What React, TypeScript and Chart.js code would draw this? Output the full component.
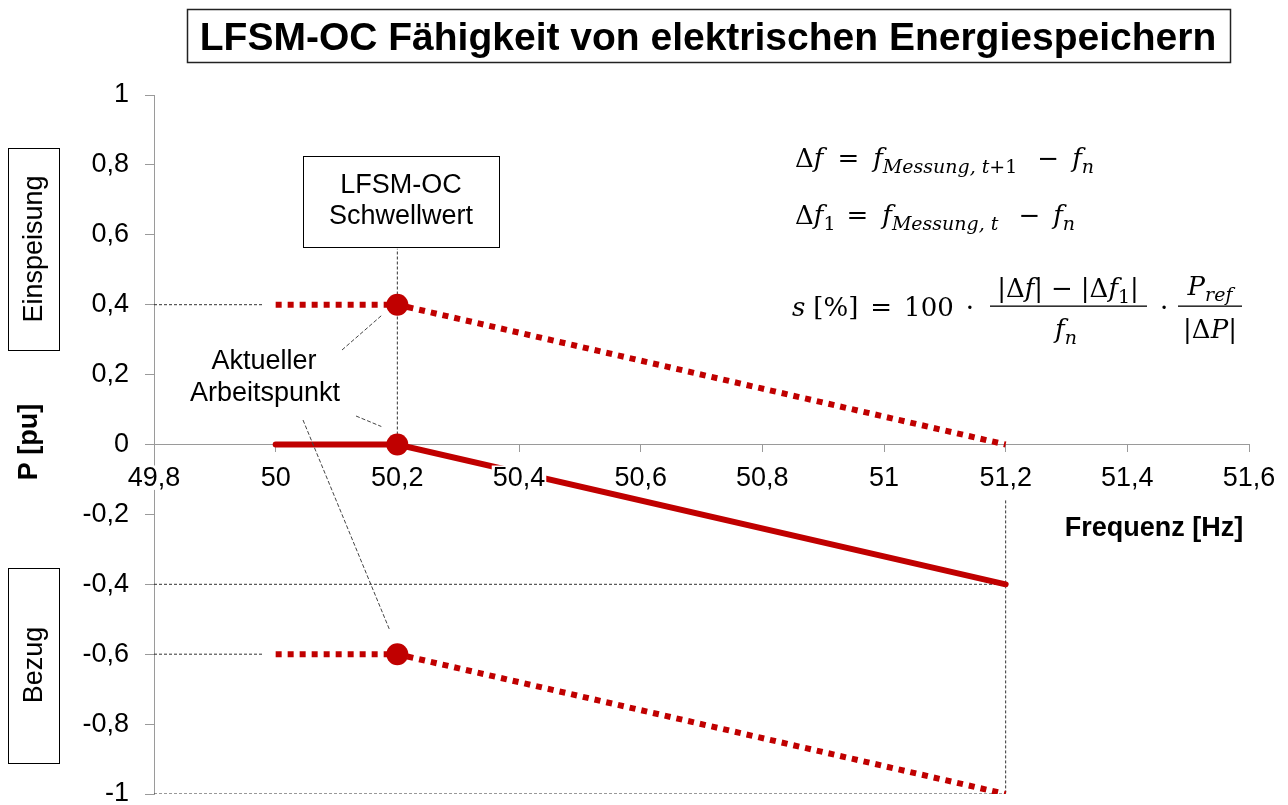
import { useEffect, useRef } from 'react';
import { Chart, registerables } from 'chart.js';

Chart.register(...registerables);

// ---- data ----
const xTickValues = [49.8, 50, 50.2, 50.4, 50.6, 50.8, 51, 51.2, 51.4, 51.6];
const xTickLabels = ['49,8', '50', '50,2', '50,4', '50,6', '50,8', '51', '51,2', '51,4', '51,6'];
const yTickValues = [1, 0.8, 0.6, 0.4, 0.2, 0, -0.2, -0.4, -0.6, -0.8, -1];
const yTickLabels = ['1', '0,8', '0,6', '0,4', '0,2', '0', '-0,2', '-0,4', '-0,6', '-0,8', '-1'];

const freqPoints = [50, 50.2, 51.2];
const powerActual = [0, 0, -0.4];
const powerUpper = [0.4, 0.4, 0];
const powerLower = [-0.6, -0.6, -1];

const thresholdFreq = 50.2;
const operatingPoints = [0.4, 0, -0.6];

const guideShortX = [49.8, 49.98];
const guideShortLevels = [0.4, -0.6];
const guideLongX = [49.8, 51.2];
const guideLongLevels = [-0.4, -1];
const guideThresholdY = [0, 0.56];
const guideEndFreq = 51.2;
const guideEndY = [-0.16, -1];

const TITLE = 'LFSM-OC Fähigkeit von elektrischen Energiespeichern';
const RED = '#C00000';
const AXIS = '#9a9a9a';
const SANS = '"Liberation Sans", Arial, sans-serif';
const SERIF = '"DejaVu Serif", "Liberation Serif", serif';

const pts = (xs: number[], ys: number[]) => xs.map((x, i) => ({ x, y: ys[i] }));

// a run of formula text; gap = extra space before the run
type Run = { t: string; it?: boolean; sub?: boolean; gap?: number };
const MAIN = 26;
const SUBS = 19;

function setRunFont(ctx: CanvasRenderingContext2D, r: Run) {
  ctx.font = `${r.it ? 'italic ' : ''}${r.sub ? SUBS : MAIN}px ${SERIF}`;
}
function runsWidth(ctx: CanvasRenderingContext2D, runs: Run[]) {
  let w = 0;
  for (const r of runs) {
    setRunFont(ctx, r);
    w += (r.gap || 0) + ctx.measureText(r.t).width;
  }
  return w;
}
function drawRuns(ctx: CanvasRenderingContext2D, runs: Run[], x: number, y: number) {
  let cx = x;
  for (const r of runs) {
    setRunFont(ctx, r);
    cx += r.gap || 0;
    ctx.fillText(r.t, cx, r.sub ? y + 6 : y);
    cx += ctx.measureText(r.t).width;
  }
  return cx - x;
}
function drawRunsCentered(ctx: CanvasRenderingContext2D, runs: Run[], cx: number, y: number) {
  const w = runsWidth(ctx, runs);
  drawRuns(ctx, runs, cx - w / 2, y);
}

const annotations = {
  id: 'annotations',
  afterDraw(chart: any) {
    const ctx: CanvasRenderingContext2D = chart.ctx;
    const xs = chart.scales.x;
    const ys = chart.scales.y;
    ctx.save();

    // title
    ctx.strokeStyle = '#222';
    ctx.lineWidth = 1.5;
    ctx.strokeRect(187.5, 9.5, 1043, 53);
    ctx.fillStyle = '#000';
    ctx.textAlign = 'center';
    ctx.textBaseline = 'alphabetic';
    ctx.font = `bold 39px ${SANS}`;
    ctx.fillText(TITLE, 708, 50);

    // side boxes
    ctx.lineWidth = 1;
    ctx.strokeStyle = '#000';
    ctx.strokeRect(8.5, 148.5, 51, 202);
    ctx.strokeRect(8.5, 568.5, 51, 195);
    ctx.textBaseline = 'middle';
    const rot = (text: string, x: number, y: number, font: string) => {
      ctx.save();
      ctx.translate(x, y);
      ctx.rotate(-Math.PI / 2);
      ctx.font = font;
      ctx.fillText(text, 0, 0);
      ctx.restore();
    };
    rot('Einspeisung', 35, 249, `27px ${SANS}`);
    rot('Bezug', 35, 665, `27px ${SANS}`);
    rot('P [pu]', 30, 442, `bold 27px ${SANS}`);

    // x axis title
    ctx.textBaseline = 'alphabetic';
    ctx.font = `bold 27px ${SANS}`;
    ctx.fillText('Frequenz [Hz]', 1154, 536);

    // threshold box
    ctx.fillStyle = '#fff';
    ctx.fillRect(303.5, 156.5, 196, 91);
    ctx.strokeRect(303.5, 156.5, 196, 91);
    ctx.fillStyle = '#000';
    ctx.font = `27px ${SANS}`;
    ctx.fillText('LFSM-OC', 401, 193);
    ctx.fillText('Schwellwert', 401, 224);

    // operating point label
    ctx.fillText('Aktueller', 264, 369);
    ctx.fillText('Arbeitspunkt', 265, 401);

    // leader lines
    const px = xs.getPixelForValue(thresholdFreq);
    const p = operatingPoints.map((v) => ys.getPixelForValue(v));
    ctx.strokeStyle = '#444';
    ctx.lineWidth = 1;
    ctx.setLineDash([4, 2]);
    const seg = (a: number, b: number, c: number, d: number) => {
      ctx.beginPath();
      ctx.moveTo(a, b);
      ctx.lineTo(c, d);
      ctx.stroke();
    };
    seg(342, 350, px - 16, p[0] + 11);
    seg(356, 416, px - 16, p[1] - 18);
    seg(303, 420, px - 8, p[2] - 25);
    ctx.setLineDash([]);

    // formulas
    ctx.fillStyle = '#000';
    ctx.textAlign = 'left';
    ctx.textBaseline = 'alphabetic';
    drawRuns(ctx, [
      { t: 'Δ' }, { t: 'f', it: true },
      { t: '=', gap: 14 },
      { t: 'f', it: true, gap: 14 }, { t: 'Messung, t', it: true, sub: true }, { t: '+1', sub: true },
      { t: '−', gap: 20 },
      { t: 'f', it: true, gap: 13 }, { t: 'n', it: true, sub: true },
    ], 795, 167);

    drawRuns(ctx, [
      { t: 'Δ' }, { t: 'f', it: true }, { t: '1', sub: true },
      { t: '=', gap: 11 },
      { t: 'f', it: true, gap: 14 }, { t: 'Messung, t', it: true, sub: true },
      { t: '−', gap: 20 },
      { t: 'f', it: true, gap: 13 }, { t: 'n', it: true, sub: true },
    ], 795, 224);

    const y3 = 316;
    drawRuns(ctx, [
      { t: 's', it: true }, { t: '[%]', gap: 8 },
      { t: '=', gap: 12 },
      { t: '100', gap: 12 },
      { t: '·', gap: 12 },
    ], 792, y3);
    drawRunsCentered(ctx, [
      { t: '|Δ' }, { t: 'f', it: true }, { t: '|' }, { t: '−', gap: 8 }, { t: '|Δ', gap: 8 }, { t: 'f', it: true }, { t: '1', sub: true }, { t: '|' },
    ], 1068, 297);
    ctx.fillRect(990, 305.5, 157, 1.3);
    drawRunsCentered(ctx, [{ t: 'f', it: true }, { t: 'n', it: true, sub: true }], 1066, 338);
    drawRuns(ctx, [{ t: '·' }], 1160, y3);
    drawRunsCentered(ctx, [{ t: 'P', it: true }, { t: 'ref', it: true, sub: true }], 1210, 295);
    ctx.fillRect(1178, 305.5, 64, 1.3);
    drawRunsCentered(ctx, [{ t: '|Δ' }, { t: 'P', it: true }, { t: '|' }], 1210, 338);

    ctx.restore();
  },
};

const guideStyle = {
  borderColor: '#333',
  borderWidth: 1,
  borderDash: [3, 2],
  pointRadius: 0,
  showLine: true,
  fill: false,
};

export default function App() {
  const ref = useRef<HTMLCanvasElement | null>(null);
  useEffect(() => {
    if (!ref.current) return;
    const labelFor = (vals: number[], labels: string[]) => (v: any) => {
      const i = vals.findIndex((t) => Math.abs(t - Number(v)) < 1e-6);
      return i >= 0 ? labels[i] : '';
    };
    const chart = new Chart(ref.current, {
      type: 'scatter',
      data: {
        datasets: [
          {
            label: 'Arbeitspunkte',
            data: operatingPoints.map((y) => ({ x: thresholdFreq, y })),
            pointRadius: 11,
            pointBackgroundColor: RED,
            pointBorderWidth: 0,
            showLine: false,
          },
          {
            label: 'LFSM-OC',
            data: pts(freqPoints, powerActual),
            borderColor: RED,
            borderWidth: 6,
            borderCapStyle: 'round',
            pointRadius: 0,
            showLine: true,
          },
          {
            label: 'Einspeisung',
            data: pts(freqPoints, powerUpper),
            borderColor: RED,
            borderWidth: 6,
            borderDash: [6, 6],
            pointRadius: 0,
            showLine: true,
          },
          {
            label: 'Bezug',
            data: pts(freqPoints, powerLower),
            borderColor: RED,
            borderWidth: 6,
            borderDash: [6, 6],
            pointRadius: 0,
            showLine: true,
          },
          ...guideShortLevels.map((lv) => ({ ...guideStyle, label: 'g', data: pts(guideShortX, [lv, lv]) })),
          ...guideLongLevels.map((lv) => ({ ...guideStyle, label: 'g', data: pts(guideLongX, [lv, lv]) })),
          { ...guideStyle, label: 'g', data: pts([thresholdFreq, thresholdFreq], guideThresholdY) },
          { ...guideStyle, label: 'g', data: pts([guideEndFreq, guideEndFreq], guideEndY) },
        ] as any,
      },
      options: {
        animation: false,
        responsive: false,
        devicePixelRatio: 1,
        events: [],
        layout: { padding: { left: 0, top: 95, right: 39, bottom: 7 } },
        plugins: { legend: { display: false }, tooltip: { enabled: false }, title: { display: false } },
        scales: {
          x: {
            type: 'linear',
            min: 49.8,
            max: 51.6,
            position: { y: 0 } as any,
            afterBuildTicks: (s: any) => {
              s.ticks = xTickValues.map((v) => ({ value: v }));
            },
            ticks: {
              callback: labelFor(xTickValues, xTickLabels),
              font: { family: SANS, size: 27 },
              color: '#000',
              padding: 11,
              z: 1,
              showLabelBackdrop: true,
              backdropColor: '#fff',
              backdropPadding: { left: 1, right: 1, top: -3, bottom: -5 },
              maxRotation: 0,
              autoSkip: false,
            } as any,
            grid: { drawOnChartArea: false, drawTicks: true, tickLength: 7, color: AXIS },
            border: { display: true, color: AXIS, width: 1 },
          },
          y: {
            type: 'linear',
            min: -1,
            max: 1,
            position: 'left',
            afterBuildTicks: (s: any) => {
              s.ticks = yTickValues.map((v) => ({ value: v }));
            },
            afterFit: (s: any) => {
              s.width = 154;
              s.paddingTop = 0;
              s.paddingBottom = 0;
            },
            ticks: {
              callback: labelFor(yTickValues, yTickLabels),
              font: { family: SANS, size: 27 },
              color: '#000',
              padding: 16,
              autoSkip: false,
            },
            grid: { drawOnChartArea: false, drawTicks: true, tickLength: 9, color: AXIS },
            border: { display: true, color: AXIS, width: 1 },
          },
        },
      } as any,
      plugins: [annotations],
    });
    return () => chart.destroy();
  }, []);

  return (
    <div style={{ position: 'fixed', left: 0, top: 0, width: 1288, height: 805, background: '#fff' }}>
      <canvas ref={ref} width={1288} height={805} style={{ display: 'block' }} />
    </div>
  );
}
